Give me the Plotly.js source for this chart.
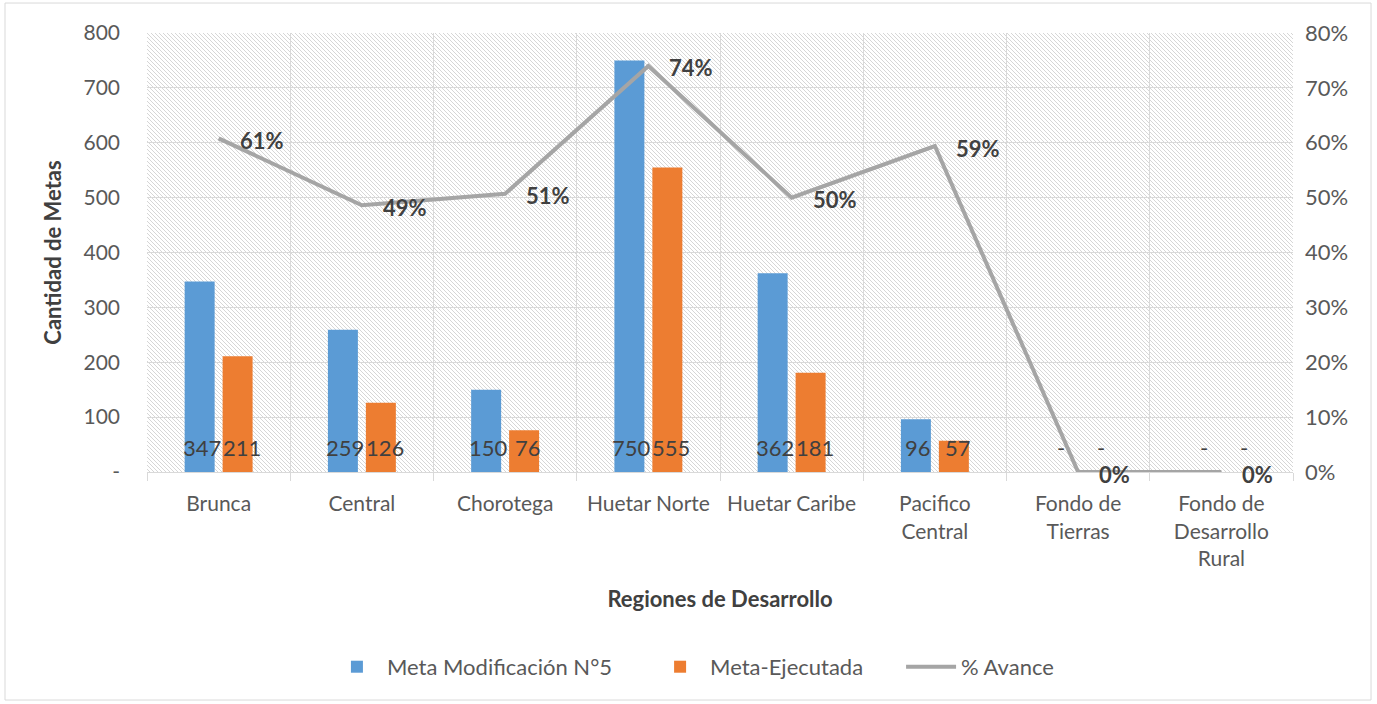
<!DOCTYPE html>
<html>
<head>
<meta charset="utf-8">
<script src="https://cdn.plot.ly/plotly-3.0.1.min.js"></script>
<style>html,body{margin:0;padding:0;background:#fff;}#chart{width:1377px;height:704px;}</style>
</head>
<body>
<div id="chart"></div>
<script>
// ---- data ----
const categories = ["Brunca", "Central", "Chorotega", "Huetar Norte", "Huetar Caribe", "Pacifico<br>Central", "Fondo de<br>Tierras", "Fondo de<br>Desarrollo<br>Rural"];
const metaModificacion = [347, 259, 150, 750, 362, 96, 0, 0];
const metaEjecutada = [211, 126, 76, 555, 181, 57, 0, 0];
const avance = [0.608, 0.486, 0.507, 0.74, 0.5, 0.594, 0, 0];
const leftTickVals = [0, 100, 200, 300, 400, 500, 600, 700, 800];
const leftTickText = ["-", "100", "200", "300", "400", "500", "600", "700", "800"];
const seriesNames = ["Meta Modificación N°5", "Meta-Ejecutada", "% Avance"];

const FONT = "Lato, 'Liberation Sans', sans-serif";
const GRID = "#D9D9D9";
const TXT = "#595959";

const traces = [
  {type: "bar", name: seriesNames[0], x: categories, y: metaModificacion, marker: {color: "#5B9BD5"}, hoverinfo: "skip", legend: "legend"},
  {type: "bar", name: seriesNames[1], x: categories, y: metaEjecutada, marker: {color: "#ED7D31"}, hoverinfo: "skip", legend: "legend2"},
  {type: "scatter", mode: "lines", name: seriesNames[2], x: categories, y: avance, yaxis: "y2",
   line: {color: "#A5A5A5", width: 4}, hoverinfo: "skip", legend: "legend3"}
];

// hatch background
const svg = "<svg xmlns='http://www.w3.org/2000/svg' width='1146' height='439'><defs><pattern id='p' width='4' height='4' patternUnits='userSpaceOnUse'><path d='M0,0 L4,4 M-1,3 L1,5 M3,-1 L5,1' stroke='#d6d6d6' stroke-width='1'/></pattern></defs><rect width='1146' height='439' fill='url(#p)'/></svg>";
const hatch = "data:image/svg+xml;base64," + btoa(svg);

const annotations = [];
const fmt = v => v === 0 ? "-" : String(v);
categories.forEach((c, i) => {
  annotations.push({x: c, xref: "x", y: 0, yref: "paper", yanchor: "middle", yshift: 25, xshift: -17, text: fmt(metaModificacion[i]),
    showarrow: false, font: {family: FONT, size: 22, color: "#404040"}});
  annotations.push({x: c, xref: "x", y: 0, yref: "paper", yanchor: "middle", yshift: 25, xshift: 23, text: fmt(metaEjecutada[i]),
    showarrow: false, font: {family: FONT, size: 22, color: "#404040"}});
  annotations.push({x: c, xref: "x", y: avance[i], yref: "y2", xanchor: "left", yanchor: "middle", xshift: 19, yshift: -2,
    text: "<b>" + Math.round(avance[i] * 100) + "%</b>",
    showarrow: false, font: {family: FONT, size: 22, color: "#404040"}});
});

const legendBase = {orientation: "h", xanchor: "left", y: -0.444, yanchor: "middle",
  font: {family: FONT, size: 22, color: TXT}, itemwidth: 50, bgcolor: "rgba(0,0,0,0)"};

const layout = {
  width: 1377, height: 704,
  margin: {l: 147, r: 84, t: 33, b: 232, pad: 0},
  paper_bgcolor: "#ffffff",
  plot_bgcolor: "rgba(0,0,0,0)",
  font: {family: FONT, size: 21, color: TXT},
  barmode: "group",
  bargap: 0.47,
  bargroupgap: 0.21,
  showlegend: true,
  legend: Object.assign({}, legendBase, {x: 0.157}),
  legend2: Object.assign({}, legendBase, {x: 0.439}),
  legend3: Object.assign({}, legendBase, {x: 0.658}),
  xaxis: {
    type: "category", tickson: "boundaries", showgrid: true, gridcolor: GRID, gridwidth: 1,
    ticks: "outside", ticklen: 8, tickcolor: GRID, showline: true, linecolor: GRID, linewidth: 1,
    tickfont: {family: FONT, size: 21, color: TXT}, ticklabelstandoff: 13,
    title: {text: "<b>Regiones de Desarrollo</b>", font: {family: FONT, size: 22, color: "#404040"}, standoff: 22},
    automargin: false, fixedrange: true
  },
  yaxis: {
    range: [0, 800], tickvals: leftTickVals, ticktext: leftTickText, showgrid: true, gridcolor: GRID, gridwidth: 1,
    zeroline: false, showline: false, ticks: "", ticklabelstandoff: 26,
    tickfont: {family: FONT, size: 21, color: TXT},
    title: {text: "<b>Cantidad de Metas</b>", font: {family: FONT, size: 22, color: "#404040"}, standoff: 15},
    automargin: false, fixedrange: true
  },
  yaxis2: {
    overlaying: "y", side: "right", range: [0, 0.8], dtick: 0.1, tickformat: ".0%", showgrid: false, zeroline: false,
    showline: false, ticks: "", ticklabelstandoff: 11, tickfont: {family: FONT, size: 22, color: TXT},
    automargin: false, fixedrange: true
  },
  images: [{source: hatch, xref: "paper", yref: "paper", x: 0, y: 1, sizex: 1, sizey: 1,
    xanchor: "left", yanchor: "top", sizing: "stretch", layer: "below"}],
  shapes: [{type: "rect", xref: "paper", yref: "paper", x0: -0.1239, x1: 1.0681, y0: -0.5194, y1: 1.0683,
    line: {color: "#D9D9D9", width: 1}, fillcolor: "rgba(0,0,0,0)", layer: "below"}],
  annotations: annotations
};

Plotly.newPlot("chart", traces, layout, {displayModeBar: false, staticPlot: true});
</script>
</body>
</html>
